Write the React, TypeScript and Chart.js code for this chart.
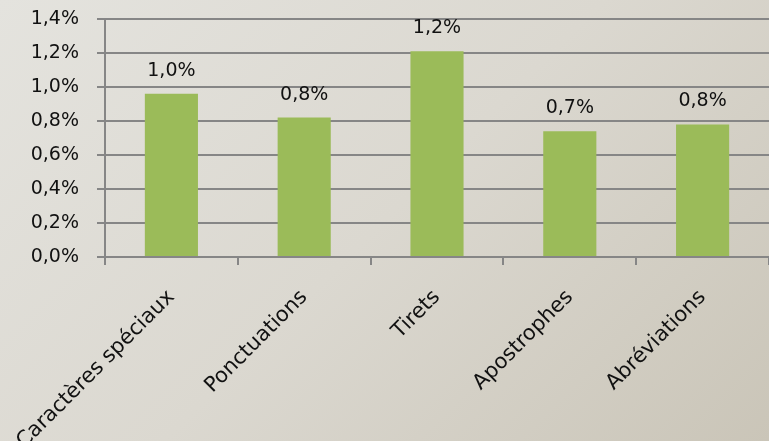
import React, { useEffect, useRef } from "react";
import { Chart, registerables } from "chart.js";

Chart.register(...registerables);

const categories = ["Caractères spéciaux", "Ponctuations", "Tirets", "Apostrophes", "Abréviations"];
const values = [0.0096, 0.0082, 0.0121, 0.0074, 0.0078];
const yTicks = [0, 0.002, 0.004, 0.006, 0.008, 0.01, 0.012, 0.014];

const fmt = (v: number) => (Math.round(v * 1000) / 10).toFixed(1).replace(".", ",") + "%";

const FONT = "'DejaVu Sans', sans-serif";
const FS = 19;

const labelPlugin = {
  id: "barLabels",
  afterDatasetsDraw(chart: any) {
    const ctx = chart.ctx;
    const meta = chart.getDatasetMeta(0);
    ctx.save();
    ctx.font = `${FS}px ${FONT}`;
    ctx.fillStyle = "#111111";
    ctx.textAlign = "center";
    ctx.textBaseline = "alphabetic";
    meta.data.forEach((bar: any, i: number) => {
      ctx.fillText(fmt(values[i]), bar.x, bar.y - 18);
    });
    ctx.restore();
  },
};

export default function App() {
  const ref = useRef<HTMLCanvasElement>(null);
  useEffect(() => {
    document.body.style.margin = "0";
    const chart = new Chart(ref.current!, {
      type: "bar",
      data: {
        labels: categories,
        datasets: [
          {
            data: values,
            backgroundColor: "#9bbb59",
            borderWidth: 0,
            barPercentage: 0.4,
            categoryPercentage: 1,
          },
        ],
      },
      options: {
        animation: false,
        responsive: false,
        layout: { padding: { left: 0, right: -4, top: 19, bottom: 0 } },
        plugins: { legend: { display: false }, tooltip: { enabled: false } },
        scales: {
          x: {
            afterFit: (axis: any) => {
              axis.height = 441 - 257 - 0;
              axis.paddingLeft = 0;
              axis.paddingRight = 0;
            },
            grid: {
              drawOnChartArea: false,
              drawTicks: true,
              tickLength: 8,
              color: "#868686",
              lineWidth: 2,
              offset: true,
            },
            border: { color: "#868686", width: 2 },
            ticks: {
              minRotation: 45,
              maxRotation: 45,
              autoSkip: false,
              font: { family: FONT, size: 21 },
              color: "#111111",
              padding: 20,
            },
          },
          y: {
            min: 0,
            max: 0.014,
            afterFit: (axis: any) => {
              axis.width = 105;
              axis.paddingTop = 0;
              axis.paddingBottom = 0;
            },
            afterBuildTicks: (axis: any) => {
              axis.ticks = yTicks.map((v) => ({ value: v }));
            },
            grid: { color: "#868686", lineWidth: 2, tickLength: 8 },
            border: { color: "#868686", width: 2 },
            ticks: {
              font: { family: FONT, size: FS },
              color: "#111111",
              padding: 18,
              callback: (v: any) => fmt(Number(v)),
            },
          },
        },
      },
      plugins: [labelPlugin],
    });
    return () => chart.destroy();
  }, []);
  return (
    <div
      style={{
        position: "fixed",
        left: 0,
        top: 0,
        width: 769,
        height: 441,
        background: "linear-gradient(135deg, #e4e3de 0%, #dbd8d0 50%, #cac5b8 100%)",
      }}
    >
      <canvas ref={ref} width={769} height={441} style={{ width: 769, height: 441 }} />
    </div>
  );
}
